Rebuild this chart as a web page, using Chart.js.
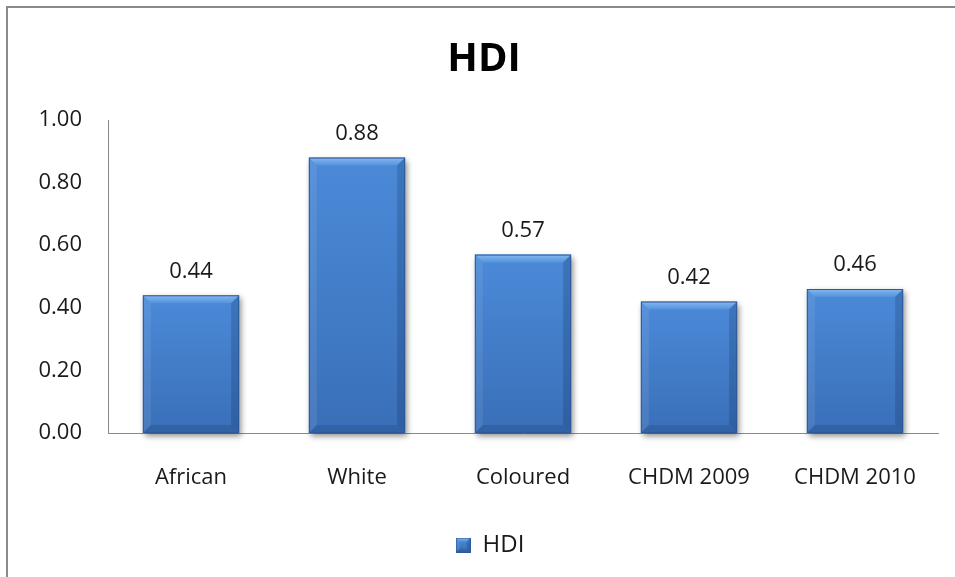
<!DOCTYPE html>
<html>
<head>
<meta charset="utf-8">
<script src="https://cdn.jsdelivr.net/npm/chart.js@4.4.1/dist/chart.umd.min.js"></script>
<style>
  html, body { margin: 0; padding: 0; background: #ffffff; overflow: hidden; }
  #wrap { position: relative; width: 955px; height: 577px; }
  #frame {
    position: absolute; left: 6px; top: 6px; width: 960px; height: 600px;
    border-left: 2px solid #8a8a8a; border-top: 2px solid #8a8a8a;
    box-sizing: border-box;
  }
  canvas { position: absolute; left: 0; top: 0; }
</style>
</head>
<body>
<div id="wrap">
  <div id="frame"></div>
  <canvas id="bar-chart" width="955" height="577"></canvas>
</div>
<script>
'use strict';

var CATEGORIES = ['African', 'White', 'Coloured', 'CHDM 2009', 'CHDM 2010'];
var HDI_VALUES = [0.44, 0.88, 0.57, 0.42, 0.46];
var Y_TICKS    = [0, 0.2, 0.4, 0.6, 0.8, 1.0];

var FONT = '"Open Sans", "DejaVu Sans", sans-serif';
var TEXT = '#1a1a1a';

// bevelled box, used for the bars and the legend swatch
function drawBevel(ctx, l, t, r, b, bev, shadow) {
  ctx.save();
  if (shadow) {
    ctx.shadowColor   = 'rgba(0,0,0,0.45)';
    ctx.shadowBlur    = 6;
    ctx.shadowOffsetX = 2;
    ctx.shadowOffsetY = 3;
  }
  var face = ctx.createLinearGradient(0, t, 0, b);
  face.addColorStop(0, '#4b8ad8');
  face.addColorStop(1, '#3a6fb8');
  ctx.fillStyle = face;
  ctx.fillRect(l, t, r - l, b - t);
  ctx.restore();

  ctx.save();
  var g = ctx.createLinearGradient(0, t, 0, t + bev);
  g.addColorStop(0, '#86b9f0');
  g.addColorStop(1, '#5392dc');
  ctx.fillStyle = g;
  ctx.beginPath();
  ctx.moveTo(l, t); ctx.lineTo(r, t); ctx.lineTo(r - bev, t + bev); ctx.lineTo(l + bev, t + bev);
  ctx.closePath(); ctx.fill();

  ctx.fillStyle = 'rgba(255,255,255,0.08)';
  ctx.beginPath();
  ctx.moveTo(l, t); ctx.lineTo(l + bev, t + bev); ctx.lineTo(l + bev, b - bev); ctx.lineTo(l, b);
  ctx.closePath(); ctx.fill();

  ctx.fillStyle = 'rgba(0,20,60,0.18)';
  ctx.beginPath();
  ctx.moveTo(r, t); ctx.lineTo(r, b); ctx.lineTo(r - bev, b - bev); ctx.lineTo(r - bev, t + bev);
  ctx.closePath(); ctx.fill();

  ctx.fillStyle = 'rgba(0,20,60,0.14)';
  ctx.beginPath();
  ctx.moveTo(l, b); ctx.lineTo(l + bev, b - bev); ctx.lineTo(r - bev, b - bev); ctx.lineTo(r, b);
  ctx.closePath(); ctx.fill();

  ctx.strokeStyle = '#2d5a98';
  ctx.lineWidth = 1;
  ctx.strokeRect(l + 0.5, t + 0.5, r - l - 1, b - t - 1);
  ctx.restore();
}

var swatch = document.createElement('canvas');
swatch.width = 15;
swatch.height = 15;
drawBevel(swatch.getContext('2d'), 0, 0, 15, 15, 4, false);

var bevelBars = {
  id: 'bevelBars',
  afterLayout: function(chart) {
    // title and legend sit a little right of the canvas centre
    chart.titleBlock.left += 22;
    chart.legend.left += 34;
  },
  afterDatasetsDraw: function(chart) {
    var ctx  = chart.ctx;
    var meta = chart.getDatasetMeta(0);
    meta.data.forEach(function(bar, i) {
      var l = bar.x - bar.width / 2;
      var r = bar.x + bar.width / 2;
      drawBevel(ctx, l, bar.y, r, bar.base, 8, true);

      ctx.save();
      ctx.fillStyle = TEXT;
      ctx.font = '22px ' + FONT;
      ctx.textAlign = 'center';
      ctx.textBaseline = 'middle';
      ctx.fillText(HDI_VALUES[i].toFixed(2), bar.x, bar.y - 24);
      ctx.restore();
    });
  }
};

var ctx = document.getElementById('bar-chart').getContext('2d');

new Chart(ctx, {
  type: 'bar',
  data: {
    labels: CATEGORIES,
    datasets: [{
      label:           'HDI',
      data:            HDI_VALUES,
      backgroundColor: 'rgba(0,0,0,0)',
      borderWidth:     0,
      barPercentage:   0.58,
      categoryPercentage: 1,
      pointStyle:      swatch,
    }],
  },
  options: {
    responsive: false,
    animation:  false,
    layout: { padding: { left: 8, right: 17, top: 35, bottom: 10 } },
    plugins: {
      title: {
        display: true,
        text:    'HDI',
        color:   '#000000',
        font:    { family: FONT, size: 40, weight: 'bold' },
        padding: { top: 1, bottom: 36 },
      },
      legend: {
        position: 'bottom',
        labels: {
          usePointStyle:  true,
          pointStyleWidth: 15,
          boxHeight: 15,
          color: TEXT,
          font:  { family: FONT, size: 24 },
          padding: 10,
        },
      },
      tooltip: { enabled: false },
    },
    scales: {
      x: {
        grid:   { display: false, drawTicks: false },
        border: { color: '#8a8a8a', width: 1 },
        ticks:  { color: TEXT, font: { family: FONT, size: 22 }, padding: 32 },
        afterFit: function(scale) { scale.height = 90; },
      },
      y: {
        min: 0,
        max: 1,
        grid:   { display: false, drawTicks: false },
        border: { color: '#8a8a8a', width: 1 },
        afterBuildTicks: function(scale) {
          scale.ticks = Y_TICKS.map(function(v) { return { value: v }; });
        },
        ticks: {
          color: TEXT,
          font:  { family: FONT, size: 22 },
          padding: 26,
          callback: function(v) { return v.toFixed(2); },
        },
        afterFit: function(scale) { scale.width = 100; },
      },
    },
  },
  plugins: [bevelBars],
});
</script>
</body>
</html>
